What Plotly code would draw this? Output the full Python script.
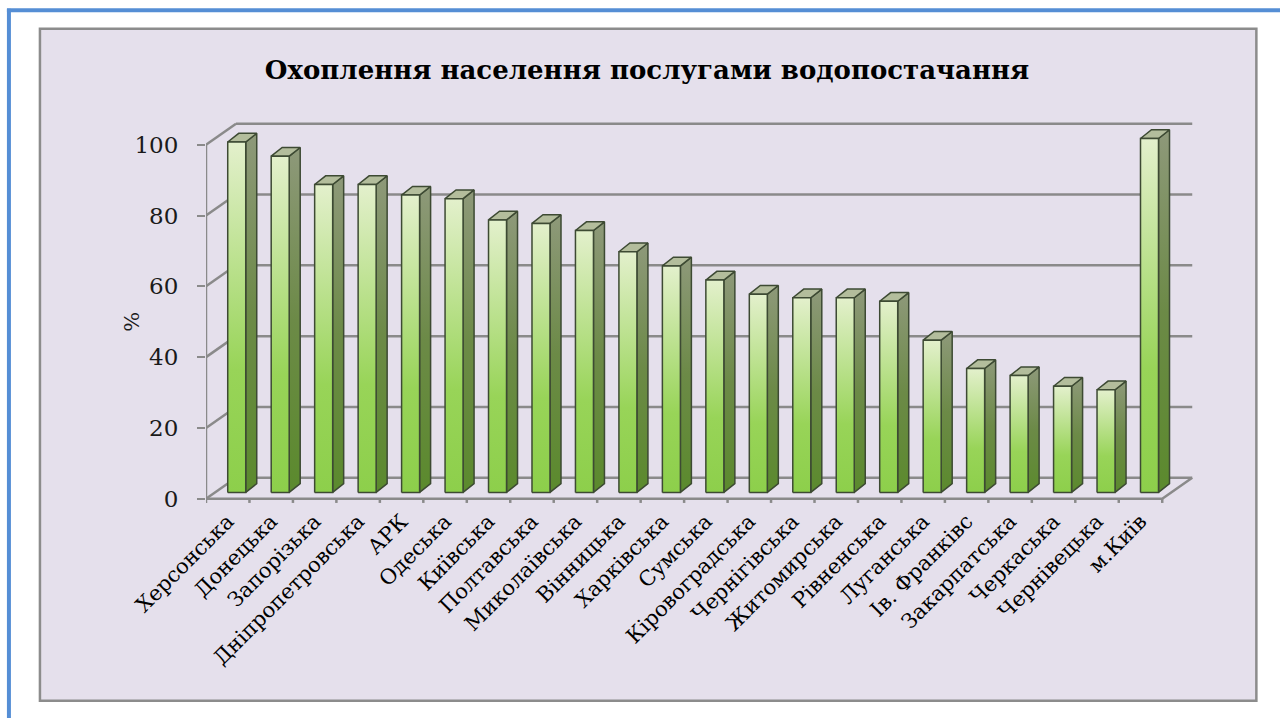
import plotly.graph_objects as go

# ---------------- data ----------------
regions = ["Херсонська", "Донецька", "Запорізька", "Дніпропетровська", "АРК",
           "Одеська", "Київська", "Полтавська", "Миколаївська", "Вінницька",
           "Харківська", "Сумська", "Кіровоградська", "Чернігівська",
           "Житомирська", "Рівненська", "Луганська", "Ів. Франківс",
           "Закарпатська", "Черкаська", "Чернівецька", "м.Київ"]
coverage = [99, 95, 87, 87, 84, 83, 77, 76, 74, 68, 64, 60, 56, 55, 55, 54,
            43, 35, 33, 30, 29, 100]
y_ticks = [0, 20, 40, 60, 80, 100]
title_text = "Охоплення населення послугами водопостачання"
y_title = "%"

# ---------------- geometry / style ----------------
W, H = 1280, 718
n = len(regions)
X0, X1 = -0.5, n - 0.5 + 0.8          # x range (extra room for back wall)
Y0, Y1 = -1.5, 107                    # y range (extra room for back wall)
PL = 206                              # left pixel of plot area
UX = 43.45                            # px per category
UY = 3.54                             # px per value unit
PB = 499 + (0 - Y0) * UY              # bottom pixel
PT = 499 - Y1 * UY                    # top pixel
PR = PL + (X1 - X0) * UX
mar = dict(l=PL, r=W - PR, t=PT, b=H - PB, pad=0)

DX = 30 / UX      # wall depth in x units
DY = 21 / UY      # wall depth in y units
F = 0.30          # bar depth position
BW = 18 / UX      # bar front width
BDX = 11 / UX     # bar side depth x
BDY = 8.7 / UY    # bar side depth y

GRID = "#8a8a8a"
OUT = "#3d4a33"

def px_x(p):
    return (p - PL) / (PR - PL)

def px_y(p):
    return (PB - p) / (PB - PT)

fig = go.Figure()

# walls / grid
gx, gy = [], []
for v in y_ticks:
    gx += [X0 + DX, n - 0.5 + DX, None]
    gy += [v + DY, v + DY, None]
    gx += [X0, X0 + DX, None]
    gy += [v, v + DY, None]
# floor front edge, right edge, front axis
gx += [X0, n - 0.5, n - 0.5 + DX, None, X0, X0, None]
gy += [0, 0, DY, None, 0, max(y_ticks), None]
# category boundary ticks
for i in range(n + 1):
    gx += [i - 0.5, i - 0.5, None]
    gy += [0, -1.2, None]
fig.add_trace(go.Scatter(x=gx, y=gy, mode="lines",
                         line=dict(color=GRID, width=2.5),
                         hoverinfo="skip", showlegend=False))

# bars
for i, v in enumerate(coverage):
    cx = i + F * DX
    base = F * DY
    xl, xr = cx - BW / 2, cx + BW / 2
    top = base + v
    # side face
    fig.add_trace(go.Scatter(
        x=[xr, xr + BDX, xr + BDX, xr, xr],
        y=[base, base + BDY, top + BDY, top, base],
        mode="lines", fill="toself",
        fillgradient=dict(type="vertical",
                          colorscale=[[0, "#5b8a2d"], [0.5, "#6c8a47"], [1, "#8e997a"]]),
        line=dict(color=OUT, width=1.5),
        hoverinfo="skip", showlegend=False))
    # top face
    fig.add_trace(go.Scatter(
        x=[xl, xr, xr + BDX, xl + BDX, xl],
        y=[top, top, top + BDY, top + BDY, top],
        mode="lines", fill="toself", fillcolor="#b3bd9c",
        line=dict(color=OUT, width=1.5),
        hoverinfo="skip", showlegend=False))
    # front face
    fig.add_trace(go.Scatter(
        x=[xl, xr, xr, xl, xl],
        y=[base, base, top, top, base],
        mode="lines", fill="toself",
        fillgradient=dict(type="vertical",
                          colorscale=[[0, "#8dcf4b"], [0.35, "#98d458"], [1, "#e3f0cc"]]),
        line=dict(color=OUT, width=1.5),
        hoverinfo="skip", showlegend=False))

SERIF = "DejaVu Serif"

fig.update_layout(
    width=W, height=H, margin=mar,
    paper_bgcolor="white", plot_bgcolor="rgba(0,0,0,0)",
    title=dict(text=title_text, x=647 / W, xanchor="center",
               y=1 - 70 / H, yanchor="middle", xref="container",
               yref="container",
               font=dict(family=SERIF, size=26, color="black", weight="bold")),
    xaxis=dict(range=[X0, X1], tickvals=list(range(n)), ticktext=regions,
               tickangle=-45, ticks="", showgrid=False, zeroline=False,
               showline=False, automargin=False,
               tickfont=dict(family=SERIF, size=21, color="black")),
    yaxis=dict(range=[Y0, Y1], tickvals=y_ticks, ticks="outside", ticklen=8,
               tickwidth=2, tickcolor=GRID, showgrid=False, zeroline=False,
               showline=False, automargin=False, ticklabelstandoff=14,
               tickfont=dict(family=SERIF, size=23, color="#1a1a1a")),
    shapes=[
        dict(type="rect", xref="paper", yref="paper", layer="below",
             x0=px_x(40), x1=px_x(1256), y0=px_y(701), y1=px_y(29),
             fillcolor="#e5e0ec", line=dict(color="#8c8c8c", width=2.5)),
        dict(type="line", xref="paper", yref="paper",
             x0=px_x(9), x1=px_x(9), y0=px_y(9), y1=px_y(720),
             line=dict(color="#558ed5", width=4)),
        dict(type="line", xref="paper", yref="paper",
             x0=px_x(7), x1=px_x(1282), y0=px_y(10.5), y1=px_y(10.5),
             line=dict(color="#558ed5", width=4)),
    ],
    annotations=[
        dict(text=y_title, xref="paper", yref="paper", x=px_x(118), y=px_y(322),
             showarrow=False, textangle=-90,
             font=dict(family=SERIF, size=21, color="#1a1a1a"))
    ],
)

fig.write_html("out.html", config={"displayModeBar": False},
               post_script="document.body.style.margin='0';"
                           "document.body.style.overflow='hidden';")
